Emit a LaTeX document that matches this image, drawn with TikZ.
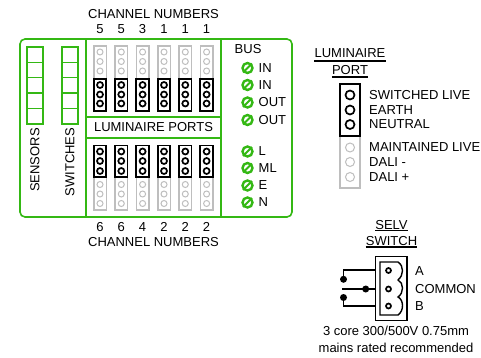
\documentclass[tikz,border=0pt]{standalone}
\usepackage{fontspec}
\setmainfont{Liberation Sans}
\definecolor{boardgreen}{RGB}{52,184,20}
\definecolor{pingrey}{RGB}{190,190,190}
\tikzset{
  lbl/.style={inner sep=0pt,font=\fontsize{13}{13}\selectfont},
  lblw/.style={lbl,anchor=west},
  board/.style={line width=1.6pt,draw=boardgreen},
  blackhdr/.style={line width=1.7pt,draw=black,fill=white},
  greyhdr/.style={line width=1.6pt,draw=pingrey,fill=white},
  blackpin/.style={circle,draw=black,line width=1.7pt,minimum size=6pt,inner sep=0pt},
  greypin/.style={circle,draw=pingrey,line width=1pt,minimum size=6pt,inner sep=0pt},
  cell/.style={line width=1.4pt,draw=boardgreen},
  term/.style={circle,draw=boardgreen,fill=white,line width=2.4pt,minimum size=10pt,inner sep=0pt},
  wire/.style={line width=1.3pt,draw=black},
  wiredot/.style={circle,fill=black,minimum size=7pt,inner sep=0pt}
}
\begin{document}
\begin{tikzpicture}[x=1pt,y=-1pt]
      \useasboundingbox (0,0) rectangle (481,358);
      % main board
      \draw[board,rounded corners=5pt] (20,39) rectangle (292,217);
      \draw[board] (86,39) -- (86,217);
      \draw[board] (220.7,39) -- (220.7,217);
      \draw[board] (86,117) -- (220.7,117);
      \draw[board] (86,138) -- (220.7,138);
      % sensor and switch strips
      \foreach \x/\nm in {27/sens,62/swit} {
        \foreach \i in {0,...,4} {
          \draw[cell] (\x,47+15.4*\i) rectangle (\x+16,62.4+15.4*\i);
        }
      }
      \node[lbl,rotate=90] (sensors) at (35,160) {SENSORS};
      \node[lbl,rotate=90] (switches) at (70,162) {SWITCHES};
      % headers, top row and bottom row
      \foreach \x/\top/\bot [count=\c] in {100/5/6,121.3/5/6,142.6/3/4,164/1/2,185.3/1/2,206.6/1/2} {
        \draw[greyhdr] (\x-6.3,46) rectangle (\x+6.3,79);
        \draw[blackhdr] (\x-6.3,79) rectangle (\x+6.3,111);
        \foreach \y in {52,61.5,71} \node[greypin] at (\x,\y) {};
        \foreach \y in {85,94.5,103.5} \node[blackpin] at (\x,\y) {};
        \draw[greyhdr] (\x-6.3,177) rectangle (\x+6.3,210);
        \draw[blackhdr] (\x-6.3,145.5) rectangle (\x+6.3,177);
        \foreach \y in {151.5,161,171} \node[blackpin] at (\x,\y) {};
        \foreach \y in {184.5,194,203.5} \node[greypin] at (\x,\y) {};
        \node[lbl] (top\c) at (\x,29) {\top};
        \node[lbl] (bot\c) at (\x,227) {\bot};
      }
      \node[lbl] (chtop) at (153.5,14.5) {CHANNEL NUMBERS};
      \node[lbl] (chbot) at (153.5,242.5) {CHANNEL NUMBERS};
      \node[lbl] (ports) at (153.5,127.5) {LUMINAIRE PORTS};
      % bus terminals
      \node[lblw] (bus) at (234.5,49.5) {BUS};
      \foreach \y/\txt/\nm in {68/IN/ina,85/IN/inb,102.5/OUT/outa,120/OUT/outb,151.5/L/l,168/ML/ml,185.5/E/e,202.5/N/n} {
        \node[term] (t\nm) at (247.5,\y) {};
        \draw[boardgreen,line width=2pt] (t\nm.south west) -- (t\nm.north east);
        \node[lblw] (l\nm) at (258.5,\y) {\txt};
      }
      % luminaire port key
      \node[lbl] (lumkey) at (350,53) {LUMINAIRE};
      \node[lbl] (portkey) at (350,70) {PORT};
      \draw[line width=1.2pt] (lumkey.west|-0,61) -- (lumkey.east|-0,61);
      \draw[line width=1.2pt] (portkey.west|-0,77) -- (portkey.east|-0,77);
      \draw[greyhdr] (340,136) rectangle (360,188);
      \draw[blackhdr] (340,84) rectangle (360,136);
      \foreach \y/\txt in {95/SWITCHED LIVE,110/EARTH,124.5/NEUTRAL} {
        \node[blackpin,minimum size=9pt] at (350,\y) {};
        \node[lblw] at (369,\y) {\txt};
      }
      \foreach \y/\txt in {147.5/MAINTAINED LIVE,162/DALI -,177/DALI +} {
        \node[greypin,minimum size=9pt] at (350,\y) {};
        \node[lblw] at (369,\y) {\txt};
      }
      % selv switch key
      \node[lbl] (selv) at (391.5,225) {SELV};
      \node[lbl] (switchkey) at (391.5,241.5) {SWITCH};
      \draw[line width=1.2pt] (selv.west|-0,230.5) -- (selv.east|-0,230.5);
      \draw[line width=1.2pt] (switchkey.west|-0,247) -- (switchkey.east|-0,247);
      \draw[line width=1.5pt] (375.7,256.7) rectangle (407,320.5);
      \draw[line width=1.4pt] (380,262) -- (398,262)
        .. controls (404,266) and (404,275) .. (398,280)
        .. controls (404,283) and (404,293) .. (398,297)
        .. controls (404,300) and (404,311) .. (398,315) -- (380,315) -- cycle;
      \foreach \y in {270.5,289,306} \node[blackpin,minimum size=5pt] at (388.5,\y) {};
      \coordinate (wa) at (375.7,270);
      \coordinate (wb) at (375.7,289);
      \coordinate (wc) at (375.7,306);
      \coordinate (wm) at (342,289);
      \node[wiredot] (da) at (343.5,279.3) {};
      \node[wiredot] (db) at (365.7,289) {};
      \node[wiredot] (dc) at (343.5,297.5) {};
      \draw[wire] (wa) -| (da);
      \draw[wire] (wc) -| (dc);
      \draw[wire] (wm) -- (wb);
      \node[lblw] (la) at (415,271) {A};
      \node[lblw] (lc) at (415,289) {COMMON};
      \node[lblw] (lb) at (415,306) {B};
      \node[lbl] (capa) at (396,331) {3 core 300/500V 0.75mm};
      \node[lbl] (capb) at (396,348) {mains rated recommended};
\end{tikzpicture}
\end{document}
